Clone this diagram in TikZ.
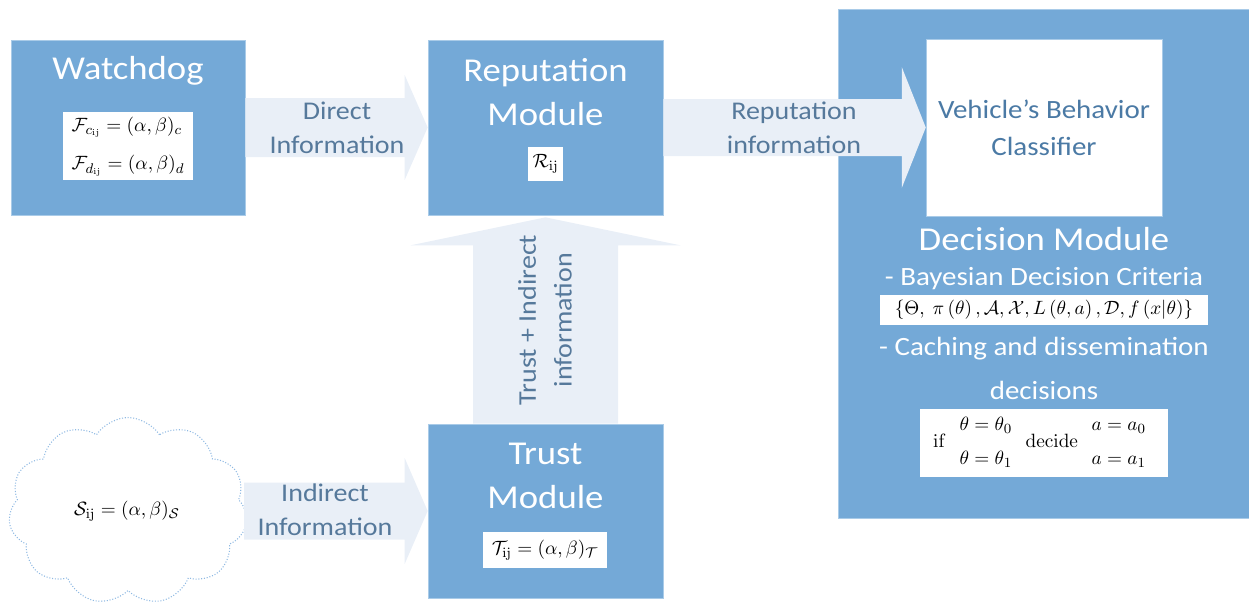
\documentclass[tikz,border=0pt]{standalone}
\usepackage[no-math]{fontspec}
\setmainfont{Carlito}[FakeStretch=1.1]
\usepackage{amsmath}
\usetikzlibrary{calc,shapes.symbols}
\definecolor{boxblue}{HTML}{74A9D7}
\definecolor{boxedge}{HTML}{A9CBE8}
\definecolor{flowfill}{HTML}{E9EFF7}
\definecolor{flowtext}{HTML}{56799B}
\definecolor{classtext}{HTML}{4B7AA5}
\definecolor{cloudline}{HTML}{8FB9E2}

\begin{document}
\begin{tikzpicture}[x=0.02cm, y=-0.02cm,
  module/.style={draw=boxedge, line width=0.4pt, fill=boxblue, inner sep=0pt},
  eqbox/.style={fill=white, inner sep=0pt, font=\fontsize{11}{13}\selectfont},
  ttl/.style={text=white, align=center, font=\fontsize{19}{25.5}\selectfont},
  sub/.style={text=white, align=center, font=\fontsize{15}{18}\selectfont},
  flow/.style={fill=flowfill},
  flowlab/.style={text=flowtext, align=center, font=\fontsize{14.5}{19.3}\selectfont},
]
\useasboundingbox (0,0) rectangle (1249,605);
% modules
\node[module, minimum width=4.68cm, minimum height=3.5cm] (wd) at (128,127.5) {};
\node[module, minimum width=4.7cm, minimum height=3.5cm] (rep) at (545.5,127.5) {};
\node[module, minimum width=4.7cm, minimum height=3.48cm] (tm) at (545.5,511) {};
\node[module, minimum width=8.22cm, minimum height=10.18cm] (dm) at (1043.5,263.5) {};
\node[fill=white, draw=boxedge, line width=0.3pt, minimum width=4.72cm, minimum height=3.54cm] (vbc) at (1044,127.5) {};
\node[draw=cloudline, line width=0.6pt, densely dotted, cloud, cloud puffs=11, cloud puff arc=115, aspect=1.25,
  minimum width=4.78cm, minimum height=3.74cm, inner sep=0pt] (src) at (128,511) {};

% titles and equations
\node[ttl] (wdt) at (128,71) {Watchdog};
\node[eqbox, minimum width=2.58cm, minimum height=1.38cm] (wdf) at (128,146)
  {$\begin{array}{l}\mathcal{F}_{c_{\mathrm{ij}}}=(\alpha,\beta)_c\\[9pt]\mathcal{F}_{d_{\mathrm{ij}}}=(\alpha,\beta)_d\end{array}$};
\node[ttl] (rept) at (545.5,92) {Reputation\\Module};
\node[eqbox, minimum width=0.7cm, minimum height=0.68cm] (repf) at (545.5,164) {$\mathcal{R}_{\mathrm{ij}}$};
\node[ttl] (tmt) at (545.5,476) {Trust\\Module};
\node[eqbox, minimum width=2.48cm, minimum height=0.72cm] (tmf) at (545,550) {$\mathcal{T}_{\mathrm{ij}}=(\alpha,\beta)_{\mathcal{T}}$};
\node[font=\fontsize{11}{13}\selectfont] (srcf) at (127,511) {$\mathcal{S}_{\mathrm{ij}}=(\alpha,\beta)_{\mathcal{S}}$};

\node[text=classtext, align=center, font=\fontsize{15}{21}\selectfont] (vbct) at (1044,127.5) {Vehicle’s Behavior\\Classifier};
\node[ttl] (dmt) at (1044,239) {Decision Module};
\node[sub] (bay) at (1044,279) {- Bayesian Decision Criteria};
\node[eqbox, minimum width=6.56cm, minimum height=0.6cm] (bayf) at (1044,310)
  {$\{\Theta,\ \pi\left(\theta\right),\mathcal{A},\mathcal{X},L\left(\theta,a\right),\mathcal{D},f\left(x|\theta\right)\}$};
\node[sub] (cach) at (1044,349) {- Caching and dissemination};
\node[sub] (decs) at (1044,390) {decisions};
\node[eqbox, minimum width=4.96cm, minimum height=1.36cm] (iff) at (1044,443)
  {$\mathrm{if}\ \begin{array}{c}\theta=\theta_0\\[6pt]\theta=\theta_1\end{array}\ \mathrm{decide}\ \begin{array}{c}a=a_0\\[6pt]a=a_1\end{array}$};

% block arrows
\fill[flow] ($(wd.east)+(0,-29.5)$) -- ($(rep.west)+(-23,-29.5)$) -- ($(rep.west)+(-23,-52.5)$)
  -- (rep.west) -- ($(rep.west)+(-23,52.5)$) -- ($(rep.west)+(-23,29.5)$) -- ($(wd.east)+(0,29.5)$) -- cycle;
\fill[flow] ($(rep.east)+(0,-28.5)$) -- ($(vbc.west)+(-24,-28.5)$) -- ($(vbc.west)+(-24,-60.5)$)
  -- (vbc.west) -- ($(vbc.west)+(-24,60.5)$) -- ($(vbc.west)+(-24,28.5)$) -- ($(rep.east)+(0,28.5)$) -- cycle;
\fill[flow] ($(tm.north)+(-72.5,0)$) -- ($(rep.south)+(-72.5,30)$) -- ($(rep.south)+(-135,30)$)
  -- ($(rep.south)+(0,2)$) -- ($(rep.south)+(135,30)$) -- ($(rep.south)+(72.5,30)$) -- ($(tm.north)+(72.5,0)$) -- cycle;
\fill[flow] ($(src.east)+(-2,-28.5)$) -- ($(tm.west)+(-23,-28.5)$) -- ($(tm.west)+(-23,-53)$)
  -- (tm.west) -- ($(tm.west)+(-23,53)$) -- ($(tm.west)+(-23,28.5)$) -- ($(src.east)+(-2,28.5)$) -- cycle;

\node[flowlab] (dirl) at (337,128) {Direct\\Information};
\node[flowlab] (repl) at (794,128) {Reputation\\information};
\node[flowlab] (indl) at (325,510) {Indirect\\Information};
\node[flowlab, rotate=90, font=\fontsize{14.5}{20.4}\selectfont] (trl) at (545,320) {Trust + Indirect\\information};
\end{tikzpicture}
\end{document}
